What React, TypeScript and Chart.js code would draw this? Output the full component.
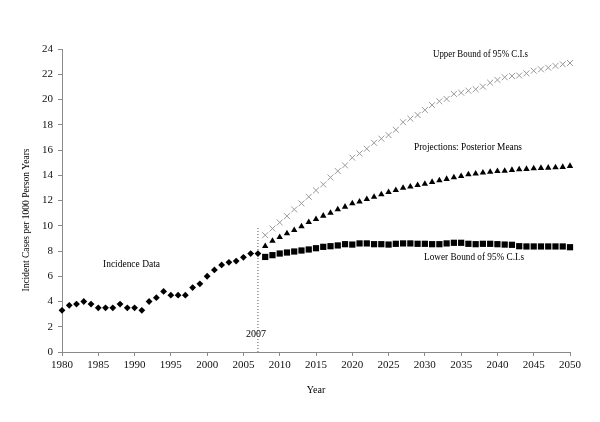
import React, { useEffect, useRef } from 'react';
import { Chart, registerables } from 'chart.js';

Chart.register(...registerables);

const incidenceYears = [1980, 1981, 1982, 1983, 1984, 1985, 1986, 1987, 1988, 1989, 1990, 1991, 1992, 1993, 1994, 1995, 1996, 1997, 1998, 1999, 2000, 2001, 2002, 2003, 2004, 2005, 2006, 2007];
const incidence = [3.3, 3.7, 3.8, 4.0, 3.8, 3.5, 3.5, 3.5, 3.8, 3.5, 3.5, 3.3, 4.0, 4.3, 4.8, 4.5, 4.5, 4.5, 5.1, 5.4, 6.0, 6.5, 6.9, 7.1, 7.2, 7.5, 7.8, 7.8];

const projYears = [2008, 2009, 2010, 2011, 2012, 2013, 2014, 2015, 2016, 2017, 2018, 2019, 2020, 2021, 2022, 2023, 2024, 2025, 2026, 2027, 2028, 2029, 2030, 2031, 2032, 2033, 2034, 2035, 2036, 2037, 2038, 2039, 2040, 2041, 2042, 2043, 2044, 2045, 2046, 2047, 2048, 2049, 2050];
const upperBound = [9.25, 9.78, 10.26, 10.76, 11.29, 11.77, 12.29, 12.8, 13.27, 13.83, 14.33, 14.78, 15.39, 15.73, 16.1, 16.57, 16.9, 17.18, 17.6, 18.2, 18.48, 18.77, 19.17, 19.56, 19.86, 20.04, 20.44, 20.54, 20.7, 20.81, 21.02, 21.33, 21.55, 21.76, 21.86, 21.9, 22.07, 22.28, 22.39, 22.52, 22.66, 22.79, 22.89];
const posteriorMeans = [8.38, 8.8, 9.1, 9.39, 9.65, 9.94, 10.29, 10.52, 10.79, 11.02, 11.29, 11.5, 11.77, 11.9, 12.11, 12.29, 12.48, 12.66, 12.82, 13.0, 13.09, 13.22, 13.32, 13.46, 13.59, 13.7, 13.83, 13.93, 14.07, 14.12, 14.2, 14.27, 14.33, 14.35, 14.41, 14.46, 14.49, 14.54, 14.57, 14.59, 14.62, 14.65, 14.73];
const lowerBound = [7.53, 7.67, 7.8, 7.88, 7.96, 8.04, 8.12, 8.22, 8.33, 8.38, 8.44, 8.54, 8.51, 8.6, 8.6, 8.54, 8.54, 8.51, 8.57, 8.6, 8.6, 8.57, 8.57, 8.54, 8.54, 8.6, 8.65, 8.65, 8.57, 8.54, 8.57, 8.57, 8.54, 8.51, 8.49, 8.38, 8.36, 8.36, 8.36, 8.36, 8.36, 8.36, 8.3];

const markerYear = [2007, 2007];
const markerLine = [0, 9.9];

const xTicks = [1980, 1985, 1990, 1995, 2000, 2005, 2010, 2015, 2020, 2025, 2030, 2035, 2040, 2045, 2050];
const yTicks = [0, 2, 4, 6, 8, 10, 12, 14, 16, 18, 20, 22, 24];

const pts = (xs: number[], ys: number[]) => xs.map((x, i) => ({ x, y: ys[i] }));

const FONT = '"Liberation Serif", "Times New Roman", serif';

export default function App() {
  const ref = useRef<HTMLCanvasElement>(null);

  useEffect(() => {
    if (!ref.current) return;
    const textPlugin = {
      id: 'annotTexts',
      afterDraw(chart: any) {
        const ctx = chart.ctx;
        ctx.save();
        ctx.fillStyle = '#000';
        ctx.font = `10px ${FONT}`;
        ctx.textBaseline = 'middle';
        ctx.textAlign = 'left';
        ctx.fillText('Upper Bound of 95% C.I.s', 433, 54, 95);
        ctx.fillText('Projections: Posterior Means', 414, 147, 108);
        ctx.fillText('Lower Bound of 95% C.I.s', 424, 257, 100);
        ctx.fillText('Incidence Data', 103, 264, 57);
        ctx.textAlign = 'center';
        ctx.fillText('2007', 256, 334);
        ctx.fillText('Year', 316, 390);
        ctx.translate(26, 220);
        ctx.rotate(-Math.PI / 2);
        ctx.fillText('Incident Cases per 1000 Person Years', 0, 0, 143);
        ctx.restore();
      },
    };

    const chart = new Chart(ref.current, {
      type: 'scatter',
      data: {
        datasets: [
          {
            label: 'Incidence Data',
            data: pts(incidenceYears, incidence),
            pointStyle: 'rectRot',
            pointRadius: 3.4,
            backgroundColor: '#000',
            borderColor: '#000',
            borderWidth: 0,
            showLine: false,
            clip: false,
          },
          {
            label: 'Upper Bound of 95% C.I.s',
            data: pts(projYears, upperBound),
            pointStyle: 'crossRot',
            pointRadius: 4.2,
            backgroundColor: '#999',
            borderColor: '#999',
            borderWidth: 1,
            showLine: false,
            clip: false,
          },
          {
            label: 'Projections: Posterior Means',
            data: pts(projYears, posteriorMeans),
            pointStyle: 'triangle',
            pointRadius: 3.7,
            backgroundColor: '#000',
            borderColor: '#000',
            borderWidth: 0,
            showLine: false,
            clip: false,
          },
          {
            label: 'Lower Bound of 95% C.I.s',
            data: pts(projYears, lowerBound),
            pointStyle: 'rect',
            pointRadius: 4.4,
            backgroundColor: '#000',
            borderColor: '#000',
            borderWidth: 0,
            showLine: false,
            clip: false,
          },
          {
            label: '2007',
            data: pts(markerYear, markerLine),
            showLine: true,
            pointRadius: 0,
            borderColor: '#555',
            borderWidth: 1,
            borderDash: [1, 2],
          },
        ],
      },
      options: {
        responsive: false,
        animation: false,
        layout: { padding: { top: 49, right: 30, left: 0, bottom: 0 } },
        plugins: {
          legend: { display: false },
          tooltip: { enabled: false },
        },
        scales: {
          x: {
            type: 'linear',
            min: 1980,
            max: 2050,
            afterFit: (s: any) => { s.height = 70; },
            afterBuildTicks: (s: any) => { s.ticks = xTicks.map((v) => ({ value: v })); },
            ticks: {
              autoSkip: false,
              maxRotation: 0,
              padding: 3,
              color: '#111',
              font: { family: FONT, size: 11 },
              callback: (v: any) => String(v),
            },
            grid: { drawOnChartArea: false, drawTicks: true, tickLength: 4, color: '#8a8a8a' },
            border: { display: true, color: '#8a8a8a', width: 1 },
          },
          y: {
            type: 'linear',
            min: 0,
            max: 24,
            afterFit: (s: any) => { s.width = 62; },
            afterBuildTicks: (s: any) => { s.ticks = yTicks.map((v) => ({ value: v })); },
            ticks: {
              autoSkip: false,
              padding: 5,
              color: '#111',
              font: { family: FONT, size: 11 },
              callback: (v: any) => String(v),
            },
            grid: { drawOnChartArea: false, drawTicks: true, tickLength: 4, color: '#8a8a8a' },
            border: { display: true, color: '#8a8a8a', width: 1 },
          },
        },
      },
      plugins: [textPlugin],
    } as any);

    return () => chart.destroy();
  }, []);

  return (
    <div style={{ position: 'fixed', left: 0, top: 0, width: 600, height: 422, background: '#fff' }}>
      <canvas ref={ref} width={600} height={422} style={{ width: 600, height: 422, display: 'block' }} />
    </div>
  );
}
